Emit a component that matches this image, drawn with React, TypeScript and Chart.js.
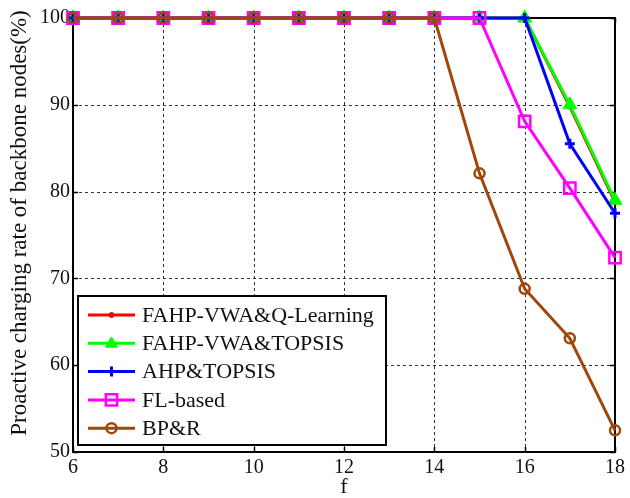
import React, { useEffect, useRef } from "react";
import { Chart, registerables } from "chart.js";

Chart.register(...registerables);

const fValues = [6, 7, 8, 9, 10, 11, 12, 13, 14, 15, 16, 17, 18];
const qLearning = [100, 100, 100, 100, 100, 100, 100, 100, 100, 100, 100, 89.8, 78.8];
const fahpTopsis = [100, 100, 100, 100, 100, 100, 100, 100, 100, 100, 100, 90.0, 79.0];
const ahpTopsis = [100, 100, 100, 100, 100, 100, 100, 100, 100, 100, 100, 85.5, 77.5];
const flBased = [100, 100, 100, 100, 100, 100, 100, 100, 100, 100, 88.1, 80.4, 72.4];
const bpr = [100, 100, 100, 100, 100, 100, 100, 100, 100, 82.1, 68.8, 63.1, 52.5];
const seriesNames = ["FAHP-VWA&Q-Learning", "FAHP-VWA&TOPSIS", "AHP&TOPSIS", "FL-based", "BP&R"];
const xTicks = [6, 8, 10, 12, 14, 16, 18];
const yTicks = [50, 60, 70, 80, 90, 100];
const xTitle = "f";
const yTitle = "Proactive charging rate of backbone nodes(%)";

const FONT = "'Liberation Serif', 'Times New Roman', serif";
const INK = "#111";

function drawMarker(ctx: CanvasRenderingContext2D, style: string, r: number, x: number, y: number) {
  ctx.beginPath();
  if (style === "circle") {
    ctx.arc(x, y, r, 0, Math.PI * 2);
    ctx.fill();
    ctx.stroke();
  } else if (style === "triangle") {
    ctx.moveTo(x, y - r);
    ctx.lineTo(x + r * 0.95, y + r * 0.6);
    ctx.lineTo(x - r * 0.95, y + r * 0.6);
    ctx.closePath();
    ctx.fill();
    ctx.stroke();
  } else if (style === "rect") {
    const s = r * Math.SQRT1_2;
    ctx.rect(x - s, y - s, 2 * s, 2 * s);
    ctx.fill();
    ctx.stroke();
  } else if (style === "cross") {
    ctx.moveTo(x - r, y);
    ctx.lineTo(x + r, y);
    ctx.moveTo(x, y - r);
    ctx.lineTo(x, y + r);
    ctx.stroke();
  }
}

const gridPlugin = {
  id: "gridFrame",
  beforeDatasetsDraw(chart: any) {
    const { ctx, chartArea: a, scales } = chart;
    ctx.save();
    ctx.strokeStyle = "#333";
    ctx.lineWidth = 1;
    ctx.setLineDash([3, 3]);
    xTicks.forEach((v) => {
      const x = Math.round(scales.x.getPixelForValue(v)) + 0.5;
      if (x <= a.left + 2 || x >= a.right - 2) return;
      ctx.beginPath();
      ctx.moveTo(x, a.top);
      ctx.lineTo(x, a.bottom);
      ctx.stroke();
    });
    yTicks.forEach((v) => {
      const y = Math.round(scales.y.getPixelForValue(v)) + 0.5;
      if (y <= a.top + 2 || y >= a.bottom - 2) return;
      ctx.beginPath();
      ctx.moveTo(a.left, y);
      ctx.lineTo(a.right, y);
      ctx.stroke();
    });
    ctx.setLineDash([]);
    ctx.strokeStyle = "#000";
    ctx.lineWidth = 1.5;
    const tl = 5;
    xTicks.forEach((v) => {
      const x = Math.round(scales.x.getPixelForValue(v)) + 0.5;
      ctx.beginPath();
      ctx.moveTo(x, a.bottom);
      ctx.lineTo(x, a.bottom - tl);
      ctx.moveTo(x, a.top);
      ctx.lineTo(x, a.top + tl);
      ctx.stroke();
    });
    yTicks.forEach((v) => {
      const y = Math.round(scales.y.getPixelForValue(v)) + 0.5;
      ctx.beginPath();
      ctx.moveTo(a.left, y);
      ctx.lineTo(a.left + tl, y);
      ctx.moveTo(a.right, y);
      ctx.lineTo(a.right - tl, y);
      ctx.stroke();
    });
    ctx.lineWidth = 2;
    ctx.strokeRect(a.left, a.top, a.right - a.left, a.bottom - a.top);
    // titles
    ctx.fillStyle = INK;
    ctx.textAlign = "center";
    ctx.textBaseline = "middle";
    ctx.font = `22px ${FONT}`;
    ctx.fillText(xTitle, (a.left + a.right) / 2, 487);
    ctx.save();
    ctx.translate(20, 223);
    ctx.rotate(-Math.PI / 2);
    ctx.font = `23px ${FONT}`;
    ctx.fillText(yTitle, 0, 0);
    ctx.restore();
    ctx.restore();
  },
};

const legendPlugin = {
  id: "legendBox",
  afterDatasetsDraw(chart: any) {
    const { ctx } = chart;
    ctx.save();
    const lx = 78, ly = 296, lw = 308, lh = 149;
    ctx.fillStyle = "#fff";
    ctx.fillRect(lx, ly, lw, lh);
    ctx.strokeStyle = "#000";
    ctx.lineWidth = 2;
    ctx.strokeRect(lx, ly, lw, lh);
    ctx.font = `22px ${FONT}`;
    ctx.textBaseline = "middle";
    ctx.textAlign = "left";
    chart.data.datasets.forEach((ds: any, i: number) => {
      const y = ly + 19 + i * 28.3;
      const x0 = lx + 10, x1 = lx + 57;
      ctx.strokeStyle = ds.borderColor;
      ctx.lineWidth = 3;
      ctx.beginPath();
      ctx.moveTo(x0, y);
      ctx.lineTo(x1, y);
      ctx.stroke();
      ctx.fillStyle = ds.pointBackgroundColor;
      ctx.strokeStyle = ds.pointBorderColor;
      ctx.lineWidth = ds.pointBorderWidth;
      drawMarker(ctx, ds.pointStyle, ds.pointRadius * (ds.pointStyle === "triangle" ? 0.8 : 1), (x0 + x1) / 2, y);
      ctx.fillStyle = INK;
      ctx.fillText(ds.label, x1 + 7, y + 1);
    });
    ctx.restore();
  },
};

export default function App() {
  const ref = useRef<HTMLCanvasElement>(null);
  useEffect(() => {
    document.body.style.margin = "0";
    const mk = (label: string, data: number[], color: string, style: string, radius: number, fill: boolean, bw: number, order: number) => ({
      label,
      data: data.map((v, i) => ({ x: fValues[i], y: v })),
      borderColor: color,
      backgroundColor: fill ? color : "rgba(0,0,0,0)",
      pointBackgroundColor: fill ? color : "rgba(0,0,0,0)",
      pointBorderColor: color,
      pointStyle: style,
      pointRadius: radius,
      pointBorderWidth: bw,
      borderWidth: 3,
      clip: false,
      order,
    });
    const datasets = [
      mk(seriesNames[0], qLearning, "#ff0000", "circle", 2.5, true, 1, 5),
      mk(seriesNames[1], fahpTopsis, "#00ff00", "triangle", 8, true, 1, 4),
      mk(seriesNames[2], ahpTopsis, "#0000ff", "cross", 5, false, 3, 3),
      mk(seriesNames[3], flBased, "#ff00ff", "rect", 8, false, 2.5, 2),
      mk(seriesNames[4], bpr, "#a0460a", "circle", 5, false, 2.5, 1),
    ];
    const tickFont = { family: FONT, size: 20 };
    const chart = new Chart(ref.current!, {
      type: "line",
      data: { datasets: datasets as any },
      plugins: [gridPlugin, legendPlugin],
      options: {
        animation: false,
        responsive: false,
        layout: { padding: { left: 0, right: 15, top: 18, bottom: 0 } },
        plugins: { legend: { display: false }, tooltip: { enabled: false } },
        scales: {
          x: {
            type: "linear",
            min: 6,
            max: 18,
            afterBuildTicks: (s: any) => { s.ticks = xTicks.map((v) => ({ value: v })); },
            afterFit: (s: any) => { s.height = 46; },
            ticks: { color: INK, font: tickFont, padding: 4, maxRotation: 0 },
            grid: { display: false, drawTicks: false },
            border: { display: false },
          },
          y: {
            min: 50,
            max: 100,
            afterBuildTicks: (s: any) => { s.ticks = yTicks.map((v) => ({ value: v })); },
            afterFit: (s: any) => { s.width = 73; },
            ticks: { color: INK, font: tickFont, padding: 3 },
            grid: { display: false, drawTicks: false },
            border: { display: false },
          },
        },
      },
    });
    return () => chart.destroy();
  }, []);
  return <canvas ref={ref} width={630} height={498} style={{ display: "block" }} />;
}
